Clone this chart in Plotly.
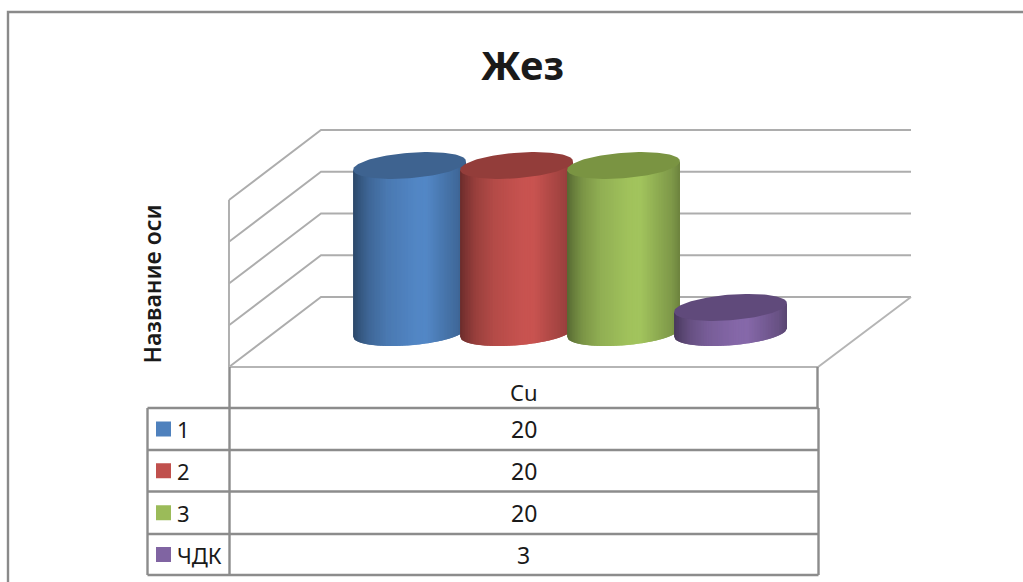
import numpy as np
import plotly.graph_objects as go

# Chart content
title_text = "Жез"
axis_title = "Название оси"
category = "Cu"
series_names = ["1", "2", "3", "ЧДК"]
series_values = [20, 20, 20, 3]
series_colors = ["#4f81bd", "#c0504d", "#9bbb59", "#8064a2"]
top_colors = ["#3e6390", "#933d3a", "#7a9442", "#604a7b"]
grid_levels = [0, 5, 10, 15, 20]

# Layout geometry of the oblique 3-D box (pixels of the 1023x582 canvas)
W, H = 1023, 582
PX_PER_UNIT = 8.35
WALL_ZERO_PY = 297
BACK_L, BACK_R = 321, 911
FRONT_L, FRONT_R = 229, 818
DEPTH_DROP = 70
GRID = "#adadad"
RULE = "#8c8c8c"
FONT = "Noto Sans, Open Sans, sans-serif"
TEXT = "#1a1a1a"


def val(py):
    """Value-axis coordinate of a canvas row."""
    return (WALL_ZERO_PY - py) / PX_PER_UNIT


def shade(hex_color, k):
    rgb = [int(hex_color[i:i + 2], 16) for i in (1, 3, 5)]
    return "rgb({},{},{})".format(*[int(min(255, c * k)) for c in rgb])


fig = go.Figure()


def line(xs, ys, color=GRID, width=1.9):
    fig.add_trace(go.Scatter(x=xs, y=ys, mode="lines", hoverinfo="skip",
                             line=dict(color=color, width=width), showlegend=False))


# Back wall, side wall and floor
depth = DEPTH_DROP / PX_PER_UNIT
for g in grid_levels:
    line([FRONT_L, BACK_L, BACK_R], [g - depth, g, g])
line([FRONT_L, FRONT_L], [-depth, grid_levels[-1] - depth])
line([BACK_R, FRONT_R, FRONT_L], [0, -depth, -depth], color="#b5b5b5")

# Cylinders: a shaded band of slices, closed by the darker top ellipse
FIRST_CX, STEP = 409.5, 107.0
A, B_X, B_Y = 53.5, 18.0, 13.5
BASE = val(332.5)
PHI = np.arctan2(B_X, A)
R = np.hypot(A, B_X)
stops_u = [-1.0, -0.9, -0.72, -0.4, 0.1, 0.3, 0.6, 0.85, 1.0]
stops_k = [0.56, 0.66, 0.80, 0.94, 1.04, 1.05, 0.92, 0.82, 0.70]
SLICES = 72

for i, (v, c, tc) in enumerate(zip(series_values, series_colors, top_colors)):
    cx = FIRST_CX + i * STEP
    us = np.linspace(-1, 1, SLICES + 1)
    for j in range(SLICES):
        seg = us[j:j + 3]
        t = 2 * np.pi - np.arccos(seg) + PHI
        xs = cx + R * np.cos(t - PHI)
        dy = B_Y * np.sin(t) / PX_PER_UNIT
        # the upper edge tucks under the top ellipse so no seam shows
        tuck = 4 * np.sqrt(1 - seg ** 2) / PX_PER_UNIT
        px = np.concatenate([xs, xs[::-1]])
        py = np.concatenate([BASE + v + dy + tuck, (BASE + dy)[::-1]])
        k = np.interp((seg[0] + seg[1]) / 2, stops_u, stops_k)
        fig.add_trace(go.Scatter(x=px, y=py, mode="lines", fill="toself",
                                 fillcolor=shade(c, k), line=dict(width=0),
                                 hoverinfo="skip", showlegend=False))
    t = np.linspace(0, 2 * np.pi, 121)
    fig.add_trace(go.Scatter(x=cx + A * np.cos(t) + B_X * np.sin(t),
                             y=BASE + v + B_Y * np.sin(t) / PX_PER_UNIT,
                             mode="lines", fill="toself", fillcolor=tc,
                             line=dict(width=0), hoverinfo="skip", showlegend=False))

# Data table rules
ROWS_PY = [408, 450, 491.5, 534, 575]
TABLE_L, TABLE_R = 147.5, 818.5
line([FRONT_L + 0.5] * 2, [val(367), val(ROWS_PY[-1])], RULE, 2.4)
line([FRONT_R - 0.5] * 2, [val(367), val(ROWS_PY[0])], RULE, 2.4)
for py in ROWS_PY:
    line([TABLE_L, TABLE_R], [val(py), val(py)], RULE, 2.4)
line([TABLE_L, TABLE_L], [val(ROWS_PY[0]), val(ROWS_PY[-1])], RULE, 2.4)
line([TABLE_R, TABLE_R], [val(ROWS_PY[0]), val(ROWS_PY[-1])], RULE, 2.4)

# Outer chart frame
line([8, 8, W], [val(H), val(12), val(12)], "#8a8a8a", 2.4)

# Legend keys and table text
annotations = [
    dict(x=522, y=val(64), text=f"<b>{title_text}</b>", font=dict(size=40)),
    dict(x=151.5, y=val(284), text=axis_title, textangle=-90, font=dict(size=23, weight=600)),
    dict(x=523.5, y=val(392), text=category, font=dict(size=22)),
]
for i, (name, v, c) in enumerate(zip(series_names, series_values, series_colors)):
    mid = (ROWS_PY[i] + ROWS_PY[i + 1]) / 2
    fig.add_trace(go.Scatter(x=[163.5], y=[val(mid)], mode="markers", hoverinfo="skip",
                             marker=dict(symbol="square", size=15, color=c, line=dict(width=0)),
                             showlegend=False))
    annotations.append(dict(x=175, y=val(mid), text=name, xanchor="left", font=dict(size=22)))
    annotations.append(dict(x=523.5, y=val(mid), text=str(v), font=dict(size=23)))

for a in annotations:
    a.update(xref="x", yref="y", showarrow=False)
    a.setdefault("xanchor", "center")
    a["yanchor"] = "middle"
    a["font"].update(family=FONT, color=TEXT)

fig.update_layout(
    width=W, height=H, autosize=False,
    margin=dict(l=0, r=0, t=0, b=0),
    paper_bgcolor="white", plot_bgcolor="white",
    showlegend=False, annotations=annotations,
    xaxis=dict(range=[0, W], visible=False, fixedrange=True),
    yaxis=dict(range=[val(H), val(0)], visible=False, fixedrange=True),
)

fig.write_html("out.html", config=dict(displayModeBar=False))
